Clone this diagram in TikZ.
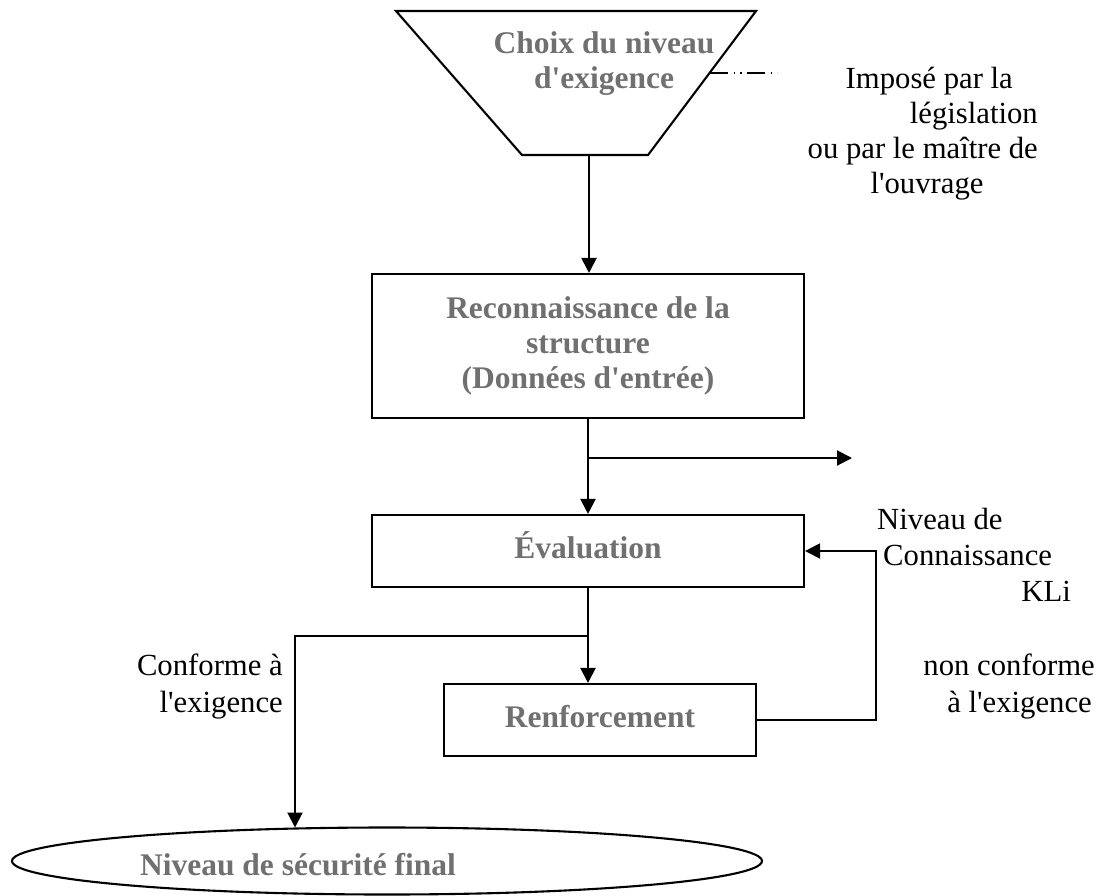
\documentclass[tikz,border=0pt]{standalone}
\usepackage{fontspec}
\setmainfont{Liberation Serif}
\usetikzlibrary{arrows.meta,shapes.geometric}
\definecolor{txtgray}{RGB}{112,112,112}
\newcommand{\regf}{\fontsize{30.7}{35}\selectfont}
\newcommand{\boldf}{\fontsize{31.5}{35}\selectfont\bfseries}
\newcommand{\ap}{\textquotesingle}
\begin{document}
\begin{tikzpicture}[x=1pt,y=-1pt,
  ln/.style={line width=2.1pt},
  arr/.style={line width=2.1pt,-{Triangle[length=15pt,width=15pt]}},
  box/.style={draw,line width=2.1pt,rectangle,inner sep=0pt,font=\boldf,text=txtgray,align=center},
  onel/.style={text height=22pt,text depth=7pt},
  lbl/.style={inner sep=0pt,font=\regf},
  glbl/.style={inner sep=0pt,font=\boldf,text=txtgray,align=center},
  ]
\useasboundingbox (0,0) rectangle (1104,895);
% trapezoid
\draw[ln,line join=miter] (396,11) -- (756,11) -- (648,155) -- (522,155) -- cycle;
\node[glbl] (choix) at (604,64) {Choix du niveau\\d\ap exigence};
\coordinate (choixb) at (589,155);
\coordinate (dd1) at (709.5,73);
\coordinate (dd2) at (777,73);
\draw[line width=2.1pt,dash pattern=on 18pt off 6pt on 1.5pt off 5pt on 1.5pt off 5pt] (dd1) -- (dd2);
% boxes
\node[box,minimum width=432pt,minimum height=144pt] (reco) at (588,346)
  {Reconnaissance de la\\structure\\(Données d\ap entrée)};
\node[box,onel,minimum width=432pt,minimum height=72pt] (eval) at (588,551) {Évaluation};
\node[box,onel,minimum width=312pt,minimum height=72pt] (renf) at (600,720) {Renforcement};
\node[draw,ellipse,line width=2.1pt,inner sep=0pt,minimum width=750pt,minimum height=67pt] (ell) at (387,861) {};
\node[glbl,anchor=base] (elltxt) at (298,875) {Niveau de sécurité final};
% connectors
\draw[arr] (choixb) -- (choixb |- reco.north);
\draw[arr] (reco.south) -- (eval.north);
\coordinate (brR) at (588,458);
\coordinate (outR) at (852,458);
\draw[arr] (brR) -- (outR);
\draw[arr] (eval.south) -- (eval.south |- renf.north);
\coordinate (brL) at (588,636);
\draw[arr] (brL) -| (ell.160);
\draw[arr] (renf.east) -- ++(119,0) |- (eval.east);
% labels
\node[lbl,anchor=base east] (imp1) at (1013,88) {Imposé par la};
\node[lbl,anchor=base east] (imp2) at (1038,123) {législation};
\node[lbl,anchor=base east] (imp3) at (1038,158) {ou par le maître de};
\node[lbl,anchor=base] (imp4) at (927,193) {l\ap ouvrage};
\node[lbl,anchor=base west] (kl1) at (877,529) {Niveau de};
\node[lbl,anchor=base west] (kl2) at (883,565) {Connaissance};
\node[lbl,anchor=base east] (kl3) at (1071,601) {KLi};
\node[lbl,anchor=base east] (nc1) at (1095,675) {non conforme};
\node[lbl,anchor=base east] (nc2) at (1092,712) {à l\ap exigence};
\node[lbl,anchor=base east] (cf1) at (283,675) {Conforme à};
\node[lbl,anchor=base east] (cf2) at (283,712) {l\ap exigence};
\end{tikzpicture}
\end{document}
